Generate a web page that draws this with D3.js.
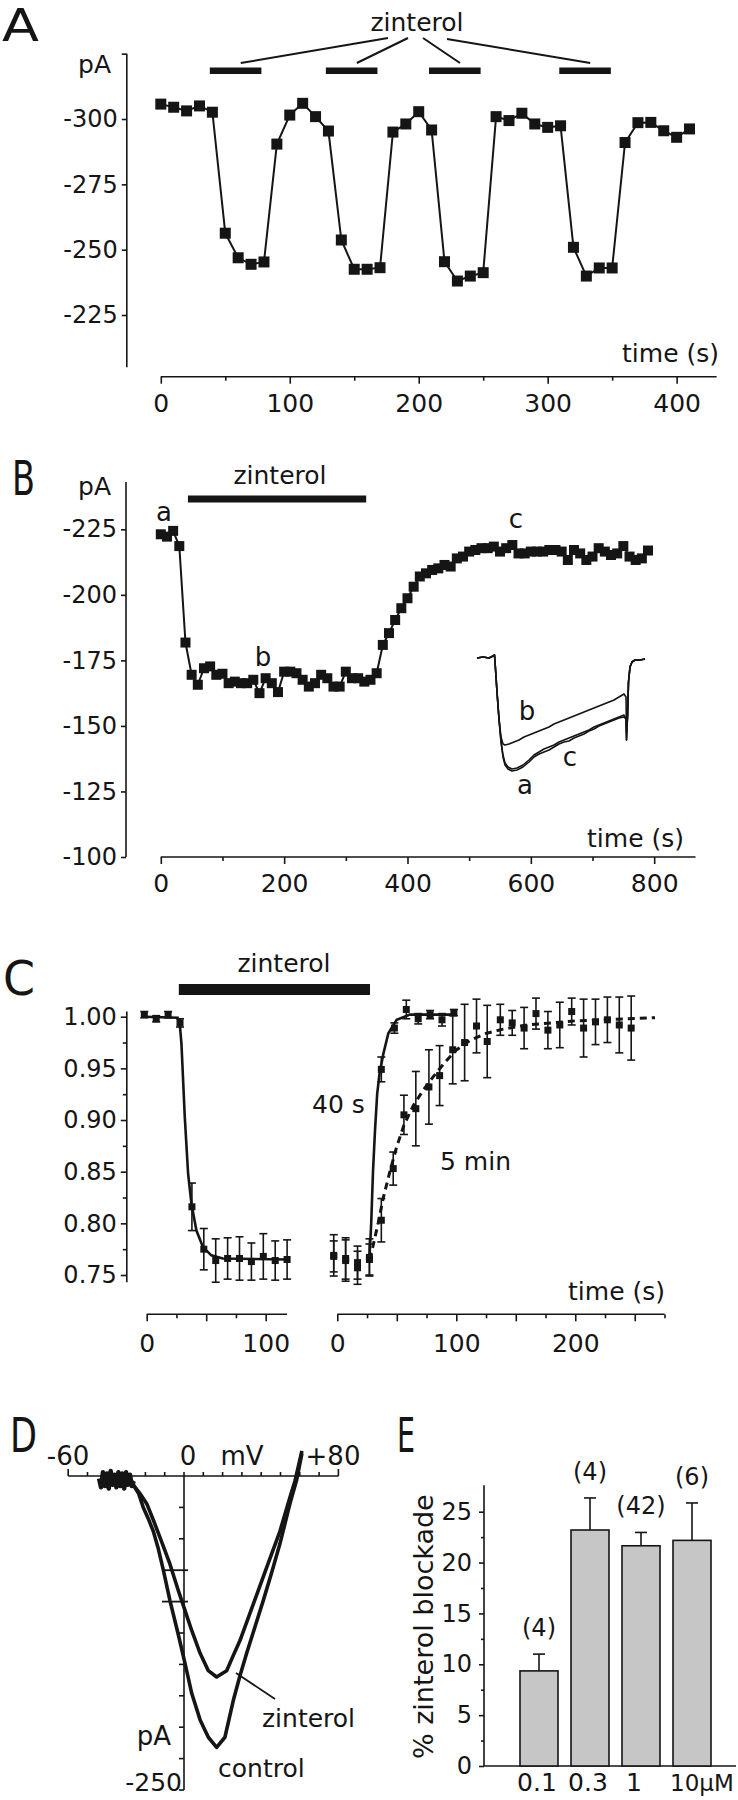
<!DOCTYPE html>
<html><head><meta charset="utf-8">
<script src="https://cdn.jsdelivr.net/npm/d3@7/dist/d3.min.js"></script>
<style>
html,body{margin:0;padding:0;background:#fff;}
svg{display:block;}
</style></head>
<body>
<svg id="fig" width="738" height="1800" xmlns="http://www.w3.org/2000/svg"></svg>
<script>
// ================= DATA =================
// Panel A : repeated zinterol applications
const aTime = [0,10,20,30,40,50,60,70,80,90,100,110,120,130,140,150,160,170,180,190,200,210,220,230,240,250,260,270,280,290,300,310,320,330,340,350,360,370,380,390,400,410];
const aCurrent = [-305.7,-304.5,-303.1,-305.0,-302.6,-256.3,-246.9,-244.4,-245.3,-290.4,-301.5,-306.0,-300.9,-295.4,-253.7,-242.5,-242.5,-243.1,-295.0,-298.1,-302.8,-295.8,-245.4,-238.0,-239.9,-241.2,-300.9,-299.4,-302.2,-298.1,-296.8,-297.4,-250.9,-239.9,-243.0,-243.0,-291.0,-298.6,-298.7,-295.5,-293.0,-296.2];
const aBars = [[38,78],[128,168],[208,248],[309,349]];
const aYTicks = [-300,-275,-250,-225];
const aXTicks = [0,100,200,300,400];
const aXMinor = [50,150,250,350];

// Panel B : single long application, recovery
const bTime = [0,10,20,30,40,50,60,70,80,90,100,110,120,130,140,150,160,170,180,190,200,210,220,230,240,250,260,270,280,290,300,310,320,330,340,350,360,370,380,390,400,410,420,430,440,450,460,470,480,490,500,510,520,530,540,550,560,570,580,590,600,610,620,630,640,650,660,670,680,690,700,710,720,730,740,750,760,770,780,790];
const bCurrent = [-223.1,-222.2,-224.4,-218.6,-181.8,
  -169.5,-165.7,-172.0,-172.7,-169.5,-169.9,-166.3,-166.9,-166.3,-166.3,-167.6,-162.5,-168.2,-166.3,-162.9,-170.7,-170.7,-170.1,-167.6,-165.0,-166.3,-169.5,-168.2,-165.0,-165.0,-170.7,-168.2,-168.2,-166.9,-167.6,-170.1,
  -180.9,-185.4,-190.4,-194.9,-198.7,-203.1,-207.0,-208.2,-209.5,-210.1,-211.4,-210.8,-213.9,-214.6,-216.5,-217.1,-217.8,-217.8,-218.4,-216.5,-217.8,-219.0,-215.8,-215.8,-216.5,-216.5,-216.5,-217.1,-217.1,-216.5,-213.3,-217.1,-215.8,-213.3,-214.6,-217.8,-216.5,-215.2,-215.8,-218.6,-214.6,-213.3,-213.9,-216.9];
const bBar = [44,333];
const bYTicks = [-225,-200,-175,-150,-125,-100];
const bXTicks = [0,200,400,600,800];
const bXMinor = [100,300,500,700];
// inset current traces (time units, current units)
const traceA = [[0,-1],[6,0],[12,-1],[16,1],[17.5,2],[18.5,-12],[20,-35],[22,-62],[24,-85],[26,-100],[28,-108],[31,-112],[35,-114],[40,-113],[46,-110],[52,-105],[57,-100],[62,-97],[67,-95],[72,-93],[77,-90],[82,-87],[87,-85],[92,-84],[97,-81],[102,-79],[107,-77],[112,-74],[117,-72],[122,-69],[127,-67],[132,-65],[137,-63],[142,-61],[147,-60],[149,-62],[149.5,-83],[150.5,-60],[151.5,-25],[153,-10],[155,-5],[158,-3],[163,-3],[168,-2]];
const traceB = [[0,-1],[6,0],[12,-1],[16,1],[17.5,2],[18.5,-12],[20,-35],[22,-62],[24,-80],[26,-87],[28,-88],[32,-87],[37,-85],[42,-83],[47,-80],[52,-78],[57,-76],[62,-74],[67,-72],[72,-70],[77,-67],[82,-65],[87,-63],[92,-61],[97,-59],[102,-57],[107,-55],[112,-53],[117,-51],[122,-49],[127,-47],[132,-45],[137,-43],[142,-40],[147,-37],[149,-40],[149.5,-75],[150.5,-60],[151.5,-25],[153,-10],[155,-5],[158,-3],[163,-3],[168,-2]];
const traceC = [[0,-1],[6,0],[12,-1],[16,1],[17.5,2],[18.5,-12],[20,-35],[22,-62],[24,-84],[26,-98],[28,-106],[31,-110],[35,-112],[40,-111],[46,-108],[52,-103],[57,-98],[62,-95],[67,-92],[72,-90],[77,-88],[82,-85],[87,-83],[92,-81],[97,-79],[102,-77],[107,-75],[112,-73],[117,-70],[122,-68],[127,-66],[132,-64],[137,-62],[142,-60],[147,-58],[149,-62],[149.5,-83],[150.5,-60],[151.5,-25],[153,-10],[155,-5],[158,-3],[163,-3],[168,-2]];

// Panel C : normalized current, 40 s vs 5 min
const cLeftTime = [-2,8,18,28,38,48,58,68,78,88,98,108,118];
const cLeftMean = [1.002,0.998,1.002,0.994,0.816,0.775,0.764,0.766,0.766,0.763,0.768,0.764,0.765];
const cLeftErr  = [0.003,0.003,0.003,0.004,0.023,0.020,0.021,0.020,0.021,0.018,0.022,0.019,0.019];
const c40Time = [-3,7,17,27,37,48,58,68,78,88,98];
const c40Mean = [0.769,0.764,0.757,0.767,0.949,0.989,1.007,0.998,1.002,0.997,1.004];
const c40Err  = [0.020,0.020,0.016,0.018,0.012,0.005,0.009,0.005,0.004,0.006,0.003];
const c5Time = [-3,7,17,27,37,47,56,66,77,86,97,107,117,126,137,147,157,167,177,187,197,207,217,227,237,247];
const c5Mean = [0.768,0.766,0.762,0.765,0.803,0.853,0.905,0.911,0.932,0.943,0.968,0.975,0.991,0.976,0.997,0.994,0.989,1.003,0.987,0.992,1.005,0.989,0.995,0.997,0.992,0.989];
const c5Err  = [0.015,0.020,0.016,0.015,0.021,0.016,0.019,0.036,0.036,0.029,0.033,0.037,0.026,0.035,0.015,0.012,0.020,0.015,0.018,0.022,0.013,0.028,0.022,0.022,0.027,0.031];
const cFitLeft = [[-2,1.0],[26,0.999],[28,0.99],[29.2,0.974],[32,0.903],[34.8,0.848],[37.6,0.819],[41.8,0.793],[47.3,0.777],[54.3,0.769],[64,0.766],[118,0.765]];
const cFit40 = [[27,0.766],[28.5,0.80],[30,0.85],[31.7,0.89],[33.5,0.925],[35.5,0.945],[38.7,0.964],[42.9,0.984],[49.9,0.997],[61,1.002],[97,1.002]];
const cFit5 = [[27,0.765],[30,0.778],[34.5,0.801],[38.7,0.825],[44.4,0.851],[49.9,0.874],[56,0.895],[63.9,0.914],[72.3,0.929],[80.7,0.942],[90.5,0.956],[100.3,0.968],[111.4,0.977],[125.5,0.984],[139.5,0.988],[160,0.992],[200,0.996],[267,0.999]];
const cBar = [27,27.5];
const cYTicks = [0.75,0.80,0.85,0.90,0.95,1.00];
const cYMinor = [0.775,0.825,0.875,0.925,0.975];
const cLeftTicks = [0,50,100];
const cLeftLabels = [0,100];
const cRightTicks = [0,50,100,150,200,250];
const cRightLabels = [0,100,200];

// Panel D : I-V relations (mV, pA)
const dNoise = [[-44,-2],[-43,-9],[-42,3],[-41,-8],[-40,2],[-39,-10],[-38,4],[-37,-7],[-36,1],[-35,-9],[-34,3],[-33,-8],[-32,2],[-31,-10],[-30,3],[-29,-7],[-28,1],[-27,-8],[-26,-4]];
const dControl = [[-27,-4],[-26.3,-7],[-23.5,-14],[-21.1,-25],[-18.5,-34],[-15.9,-44],[-13.3,-58],[-10.7,-75],[-7.3,-99],[-3.0,-126],[0.5,-149],[4.0,-173],[8.3,-194],[12.6,-208],[16.9,-216],[21.2,-208],[25.5,-179],[29,-159],[32.5,-141],[36.8,-120],[41.1,-99],[45.4,-77],[49.7,-54],[52.3,-38],[54.9,-22],[58.4,-3],[61.1,18]];
const dZinterol = [[-27,-4],[-26.3,-7],[-22.8,-14],[-19.3,-22],[-15.9,-35],[-12.4,-49],[-7.3,-70],[-3.0,-91],[0.5,-107],[4.0,-123],[8.3,-141],[12.6,-155],[16.9,-160],[22.1,-155],[25.5,-143],[29.0,-131],[35.9,-102],[42.8,-73],[49.7,-44],[54.9,-17],[57.5,-4],[61.1,20]];
const dVTicks = [-60,-50,-40,-30,-20,-10,0,10,20,30,40,50,60,70,80];
const dITicks = [-25,-50,-75,-100,-125,-150,-175,-200,-225,-250];

// Panel E : dose dependence
const eConc = ["0.1","0.3","1","10μM"];
const eMean = [9.35,23.2,21.65,22.18];
const eSem  = [1.65,3.15,1.31,3.68];
const eN    = ["(4)","(4)","(42)","(6)"];
const eYTicks = [0,5,10,15,20,25];
const eYMinor = [2.5,7.5,12.5,17.5,22.5];

// ================= DRAWING =================
const FONT = '"DejaVu Sans", "Liberation Sans", Arial, sans-serif';
const INK = '#151515';
const svg = d3.select('#fig');
svg.append('rect').attr('width',738).attr('height',1800).attr('fill','#fff');

function txt(x,y,s,size,anchor){
  return svg.append('text').attr('x',x).attr('y',y).attr('font-family',FONT)
    .attr('font-size',size).attr('text-anchor',anchor||'start').attr('fill',INK).text(s);
}
function letter(x,y,s,w,size){
  txt(x,y,s,size||48,'start').attr('textLength',w).attr('lengthAdjust','spacingAndGlyphs');
}
function seg(x1,y1,x2,y2,w){
  return svg.append('line').attr('x1',x1).attr('y1',y1).attr('x2',x2).attr('y2',y2)
    .attr('stroke',INK).attr('stroke-width',w||1.6);
}
function styleAxis(g,size){
  g.attr('font-family',FONT).attr('font-size',size);
  g.selectAll('.domain').remove();
  g.selectAll('.tick line').attr('stroke',INK).attr('stroke-width',1.6);
  g.selectAll('.tick text').attr('fill',INK);
}

// ---------- Panel A ----------
const xA = d3.scaleLinear().domain([0,431]).range([160.8,716.6]);
const yA = d3.scaleLinear().domain([-300,-225]).range([119,315]);
letter(2,41,'A',37,44);
txt(417,31,'zinterol',25,'middle');
const aPointerStart = [[388,38],[408,38],[423,38],[447,39]];
aBars.forEach((b,i)=>{
  seg(aPointerStart[i][0],aPointerStart[i][1], xA(b[0]+0.6*(b[1]-b[0])), 63, 2);
  svg.append('rect').attr('x',xA(b[0])).attr('y',67.5).attr('width',xA(b[1])-xA(b[0])).attr('height',6.5).attr('fill',INK);
});
txt(111,73,'pA',25,'end');
seg(126.8,yA(-325),126.8,yA(-205));
svg.append('g').attr('transform','translate(126.8,0)')
  .call(d3.axisLeft(yA).tickValues([-325].concat(aYTicks)).tickSize(5).tickPadding(4)
    .tickFormat(d=>aYTicks.includes(d)?String(d):''))
  .call(styleAxis,24);
seg(xA(0),376.7,xA(431),376.7);
svg.append('g').attr('transform','translate(0,376.7)')
  .call(d3.axisBottom(xA).tickValues(aXTicks).tickSize(7).tickPadding(11).tickFormat(String))
  .call(styleAxis,25);
svg.append('g').attr('transform','translate(0,376.7)')
  .call(d3.axisBottom(xA).tickValues(aXMinor).tickSize(4).tickFormat(''))
  .call(styleAxis,25);
txt(719,362,'time (s)',25,'end');
svg.append('path').datum(aCurrent)
  .attr('d',d3.line().x((d,i)=>xA(aTime[i])).y(d=>yA(d)))
  .attr('fill','none').attr('stroke',INK).attr('stroke-width',2);
svg.append('g').selectAll('rect').data(aCurrent).join('rect')
  .attr('x',(d,i)=>xA(aTime[i])-5.5).attr('y',d=>yA(d)-5.5)
  .attr('width',11).attr('height',11).attr('fill',INK);

// ---------- Panel B ----------
const xB = d3.scaleLinear().domain([0,867]).range([160.8,695.5]);
const yB = d3.scaleLinear().domain([-225,-100]).range([529.3,857]);
letter(12,495,'B',23);
txt(111,495,'pA',25,'end');
txt(280,484,'zinterol',25,'middle');
svg.append('rect').attr('x',xB(bBar[0])).attr('y',495.5).attr('width',xB(bBar[1])-xB(bBar[0])).attr('height',7).attr('fill',INK);
seg(126,yB(-243),126,yB(-100));
svg.append('g').attr('transform','translate(126,0)')
  .call(d3.axisLeft(yB).tickValues(bYTicks).tickSize(5).tickPadding(4).tickFormat(String))
  .call(styleAxis,24);
seg(xB(0),857,xB(867),857);
svg.append('g').attr('transform','translate(0,857)')
  .call(d3.axisBottom(xB).tickValues(bXTicks).tickSize(7).tickPadding(10).tickFormat(String))
  .call(styleAxis,25);
svg.append('g').attr('transform','translate(0,857)')
  .call(d3.axisBottom(xB).tickValues(bXMinor).tickSize(4).tickFormat(''))
  .call(styleAxis,25);
txt(684,847,'time (s)',25,'end');
svg.append('path').datum(bCurrent)
  .attr('d',d3.line().x((d,i)=>xB(bTime[i])).y(d=>yB(d)))
  .attr('fill','none').attr('stroke',INK).attr('stroke-width',2);
svg.append('g').selectAll('rect').data(bCurrent).join('rect')
  .attr('x',(d,i)=>xB(bTime[i])-5).attr('y',d=>yB(d)-5)
  .attr('width',10).attr('height',10).attr('fill',INK);
txt(164,521,'a',26,'middle');
txt(263,666,'b',26,'middle');
txt(516,528,'c',26,'middle');
// inset
const xI = d3.scaleLinear().domain([0,170]).range([477,647]);
const yI = d3.scaleLinear().domain([0,-120]).range([657,777]);
const lineI = d3.line().x(d=>xI(d[0])).y(d=>yI(d[1]));
[traceA,traceC,traceB].forEach(tr=>{
  svg.append('path').datum(tr).attr('d',lineI).attr('fill','none')
    .attr('stroke',INK).attr('stroke-width',1.6).attr('stroke-linejoin','round');
});
txt(527,720,'b',26,'middle');
txt(570,766,'c',26,'middle');
txt(525,794,'a',26,'middle');

// ---------- Panel C ----------
const xCL = d3.scaleLinear().domain([0,118]).range([146.7,287.1]);
const xCR = d3.scaleLinear().domain([0,275]).range([337.3,664.5]);
const yC = d3.scaleLinear().domain([0.75,1.0]).range([1275,1016.7]);
letter(3,995,'C',32);
txt(284,972,'zinterol',25,'middle');
svg.append('rect').attr('x',xCL(cBar[0])).attr('y',984).attr('width',xCR(cBar[1])-xCL(cBar[0])).attr('height',11).attr('fill',INK);
seg(126.8,yC(1.005),126.8,yC(0.743));
svg.append('g').attr('transform','translate(126.8,0)')
  .call(d3.axisLeft(yC).tickValues(cYTicks).tickSize(6).tickPadding(4).tickFormat(d3.format('.2f')))
  .call(styleAxis,24);
svg.append('g').attr('transform','translate(126.8,0)')
  .call(d3.axisLeft(yC).tickValues(cYMinor).tickSize(4).tickFormat(''))
  .call(styleAxis,24);
seg(xCL(0),1314.3,xCL(118),1314.3);
seg(xCR(0),1314.3,xCR(275),1314.3);
[[xCL,cLeftTicks,cLeftLabels],[xCR,cRightTicks,cRightLabels]].forEach(([sc,tk,lb])=>{
  svg.append('g').attr('transform','translate(0,1314.3)')
    .call(d3.axisBottom(sc).tickValues(tk).tickSize(7).tickPadding(13).tickFormat(d=>lb.includes(d)?String(d):''))
    .call(styleAxis,25);
  const mn = tk.map(v=>v+25).filter(v=>v<=sc.domain()[1]);
  svg.append('g').attr('transform','translate(0,1314.3)')
    .call(d3.axisBottom(sc).tickValues(mn).tickSize(4).tickFormat(''))
    .call(styleAxis,25);
});
txt(665,1300,'time (s)',25,'end');
const lineCL = d3.line().x(d=>xCL(d[0])).y(d=>yC(d[1]));
const lineCR = d3.line().x(d=>xCR(d[0])).y(d=>yC(d[1]));
svg.append('path').datum(cFitLeft).attr('d',lineCL).attr('fill','none').attr('stroke',INK).attr('stroke-width',2.6);
svg.append('path').datum(cFit40).attr('d',lineCR).attr('fill','none').attr('stroke',INK).attr('stroke-width',2.6);
svg.append('path').datum(cFit5).attr('d',lineCR).attr('fill','none').attr('stroke',INK).attr('stroke-width',3).attr('stroke-dasharray','7,5');
function errPoints(sc,times,means,errs){
  const g = svg.append('g');
  const idx = means.map((d,i)=>i);
  g.selectAll('line.v').data(idx).join('line').attr('class','v')
    .attr('x1',i=>sc(times[i])).attr('x2',i=>sc(times[i]))
    .attr('y1',i=>yC(means[i]-errs[i])).attr('y2',i=>yC(means[i]+errs[i]))
    .attr('stroke',INK).attr('stroke-width',1.6);
  g.selectAll('line.t').data(idx).join('line').attr('class','t')
    .attr('x1',i=>sc(times[i])-4).attr('x2',i=>sc(times[i])+4)
    .attr('y1',i=>yC(means[i]+errs[i])).attr('y2',i=>yC(means[i]+errs[i]))
    .attr('stroke',INK).attr('stroke-width',1.6);
  g.selectAll('line.b').data(idx).join('line').attr('class','b')
    .attr('x1',i=>sc(times[i])-4).attr('x2',i=>sc(times[i])+4)
    .attr('y1',i=>yC(means[i]-errs[i])).attr('y2',i=>yC(means[i]-errs[i]))
    .attr('stroke',INK).attr('stroke-width',1.6);
  g.selectAll('rect').data(idx).join('rect')
    .attr('x',i=>sc(times[i])-3.5).attr('y',i=>yC(means[i])-3.5)
    .attr('width',7).attr('height',7).attr('fill',INK);
}
errPoints(xCL,cLeftTime,cLeftMean,cLeftErr);
errPoints(xCR,c5Time,c5Mean,c5Err);
errPoints(xCR,c40Time,c40Mean,c40Err);
txt(312,1113,'40 s',25,'start');
txt(440,1170,'5 min',25,'start');

// ---------- Panel D ----------
const xD = d3.scaleLinear().domain([-60,80]).range([68.2,338.4]);
const yD = d3.scaleLinear().domain([0,-250]).range([1476,1790]);
letter(10,1452,'D',27);
seg(xD(-60),1476,xD(80),1476);
dVTicks.forEach(v=>{
  const L = (v===-60||v===80)?7:4;
  seg(xD(v),1476,xD(v),1476-L);
});
seg(xD(0),1476,xD(0),1790);
dITicks.forEach(v=>{
  if(v===-75||v===-100){ seg(162,yD(v),188,yD(v),1.8); }
  else { seg(xD(0)-5,yD(v),xD(0),yD(v)); }
});
txt(68,1465,'-60',26,'middle');
txt(188,1465,'0',26,'middle');
txt(242,1465,'mV',26,'middle');
txt(333,1465,'+80',26,'middle');
txt(171,1745,'pA',26,'end');
txt(182,1791,'-250',25,'end');
const lineD = d3.line().x(d=>xD(d[0])).y(d=>yD(d[1]));
svg.append('path').datum(dNoise).attr('d',lineD).attr('fill','none').attr('stroke',INK)
  .attr('stroke-width',4.5).attr('stroke-linejoin','round');
[dControl,dZinterol].forEach(c=>{
  svg.append('path').datum(c).attr('d',lineD).attr('fill','none').attr('stroke',INK)
    .attr('stroke-width',3.6).attr('stroke-linejoin','round');
});
seg(275,1699,236,1673,1.8);
txt(262,1727,'zinterol',25,'start');
txt(218,1777,'control',25,'start');

// ---------- Panel E ----------
const xE = d3.scalePoint().domain(eConc).range([539,692]);
const yE = d3.scaleLinear().domain([0,25]).range([1766,1511.7]);
letter(397,1452,'E',18);
seg(484,yE(0),484,yE(27.6));
svg.append('g').attr('transform','translate(484,0)')
  .call(d3.axisLeft(yE).tickValues(eYTicks).tickSize(5).tickPadding(7).tickFormat(String))
  .call(styleAxis,24);
svg.append('g').attr('transform','translate(484,0)')
  .call(d3.axisLeft(yE).tickValues(eYMinor).tickSize(3).tickFormat(''))
  .call(styleAxis,24);
seg(484,1766,736,1766);
const eIdx = eMean.map((d,i)=>i);
svg.append('g').selectAll('line').data(eIdx).join('line')
  .attr('x1',i=>xE(eConc[i])).attr('x2',i=>xE(eConc[i]))
  .attr('y1',i=>yE(eMean[i])).attr('y2',i=>yE(eMean[i]+eSem[i]))
  .attr('stroke',INK).attr('stroke-width',1.6);
svg.append('g').selectAll('line').data(eIdx).join('line')
  .attr('x1',i=>xE(eConc[i])-6).attr('x2',i=>xE(eConc[i])+6)
  .attr('y1',i=>yE(eMean[i]+eSem[i])).attr('y2',i=>yE(eMean[i]+eSem[i]))
  .attr('stroke',INK).attr('stroke-width',1.6);
svg.append('g').selectAll('rect').data(eIdx).join('rect')
  .attr('x',i=>xE(eConc[i])-19).attr('y',i=>yE(eMean[i]))
  .attr('width',38).attr('height',i=>yE(0)-yE(eMean[i]))
  .attr('fill','#c6c6c6').attr('stroke',INK).attr('stroke-width',1.6);
eIdx.forEach(i=>{
  txt(xE(eConc[i]), yE(eMean[i]+eSem[i])-18, eN[i], 24, 'middle');
});
eIdx.forEach(i=>{
  if(i===3) txt(670,1791,eConc[i],23,'start');
  else txt(xE(eConc[i])-(i===2?7:2),1791,eConc[i],25,'middle');
});
svg.append('text').attr('transform','translate(433,1626.7) rotate(-90)')
  .attr('font-family',FONT).attr('font-size',27).attr('text-anchor','middle').attr('fill',INK)
  .text('% zinterol blockade');
</script>
</body></html>
